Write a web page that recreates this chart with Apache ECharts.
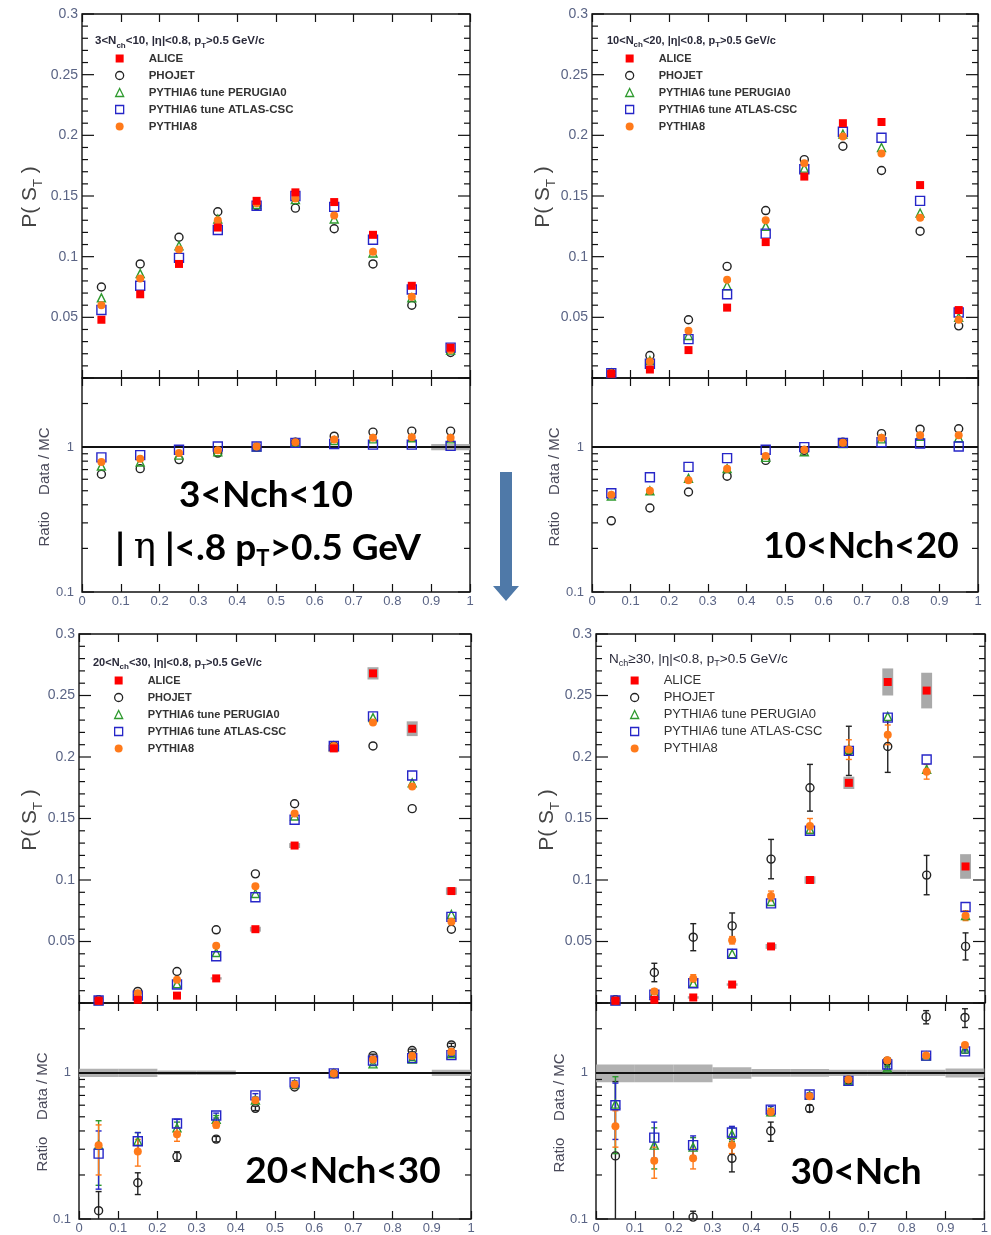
<!DOCTYPE html>
<html><head><meta charset="utf-8">
<script src="https://cdn.jsdelivr.net/npm/echarts@6/dist/echarts.min.js"></script>
<style>html,body{margin:0;padding:0;background:#fff}#c{width:991px;height:1235px}</style>
</head><body><div id="c"></div><script>
// ---------------- DATA ----------------
const stBins = [0.05, 0.15, 0.25, 0.35, 0.45, 0.55, 0.65, 0.75, 0.85, 0.95];
const xTickLabels = ['0','0.1','0.2','0.3','0.4','0.5','0.6','0.7','0.8','0.9','1'];
const logMajorTicks = [0.1, 1];
const logMinorTicks = [0.2,0.3,0.4,0.5,0.6,0.7,0.8,0.9,2,3];
const seriesNames = ['ALICE','PHOJET','PYTHIA6 tune PERUGIA0','PYTHIA6 tune ATLAS-CSC','PYTHIA8'];

// Panel 1 : 3<Nch<10
const alice_1   = [0.048,0.069,0.094,0.124,0.146,0.153,0.145,0.118,0.076,0.025];
const phojet_1  = [0.075,0.094,0.116,0.137,0.142,0.140,0.123,0.094,0.060,0.021];
const perugia_1 = [0.066,0.086,0.109,0.131,0.143,0.147,0.131,0.103,0.066,0.023];
const atlas_1   = [0.056,0.076,0.099,0.122,0.142,0.150,0.141,0.114,0.073,0.025];
const pythia8_1 = [0.060,0.082,0.106,0.130,0.144,0.148,0.134,0.104,0.067,0.023];
const rPhojet_1  = [0.65,0.71,0.82,0.91,1.00,1.08,1.19,1.27,1.29,1.29];
const rPerugia_1 = [0.74,0.79,0.88,0.93,1.00,1.07,1.11,1.14,1.16,1.14];
const rAtlas_1   = [0.85,0.88,0.96,1.01,1.01,1.07,1.05,1.04,1.04,1.02];
const rPythia8_1 = [0.79,0.83,0.91,0.95,1.01,1.08,1.13,1.16,1.17,1.16];
const band_1 = [0.012,0.012,0.012,0.012,0.012,0.012,0.012,0.012,0.012,0.05];

// Panel 2 : 10<Nch<20
const alice_2   = [0.0035,0.007,0.023,0.058,0.112,0.166,0.210,0.211,0.159,0.056];
const phojet_2  = [0.004,0.0185,0.048,0.092,0.138,0.180,0.191,0.171,0.121,0.043];
const perugia_2 = [0.004,0.0144,0.035,0.076,0.125,0.173,0.201,0.190,0.136,0.050];
const atlas_2   = [0.004,0.0117,0.032,0.069,0.119,0.172,0.203,0.198,0.146,0.054];
const pythia8_2 = [0.004,0.0136,0.039,0.081,0.130,0.177,0.199,0.185,0.132,0.048];
const rPhojet_2  = [0.31,0.38,0.49,0.63,0.81,0.95,1.08,1.24,1.33,1.34];
const rPerugia_2 = [0.46,0.50,0.61,0.71,0.85,0.93,1.06,1.14,1.19,1.16];
const rAtlas_2   = [0.48,0.62,0.73,0.84,0.96,1.00,1.07,1.08,1.06,1.01];
const rPythia8_2 = [0.47,0.50,0.59,0.71,0.87,0.96,1.07,1.16,1.21,1.21];
const band_2 = [0.012,0.012,0.012,0.012,0.012,0.012,0.012,0.012,0.012,0.012];

// Panel 3 : 20<Nch<30
const alice_3   = [0.0018,0.0026,0.006,0.020,0.060,0.128,0.207,0.268,0.223,0.091];
const aliceSys_3 = [0,0,0,0.001,0.002,0.002,0.003,0.005,0.006,0.003];
const phojet_3  = [0.0026,0.0094,0.0256,0.0595,0.105,0.162,0.209,0.209,0.158,0.060];
const perugia_3 = [0.002,0.0067,0.0156,0.041,0.089,0.152,0.209,0.232,0.179,0.072];
const atlas_3   = [0.002,0.006,0.015,0.038,0.086,0.149,0.209,0.233,0.185,0.070];
const pythia8_3 = [0.002,0.008,0.019,0.0465,0.095,0.154,0.209,0.228,0.176,0.066];
const rPhojet_3  = [0.114,0.177,0.268,0.352,0.571,0.80,0.985,1.31,1.42,1.55];
const rPerugia_3 = [0.32,0.34,0.42,0.48,0.65,0.84,0.99,1.15,1.24,1.35];
const rAtlas_3   = [0.28,0.34,0.45,0.51,0.70,0.86,0.99,1.21,1.26,1.32];
const rPythia8_3 = [0.32,0.29,0.38,0.44,0.65,0.83,0.99,1.23,1.30,1.39];
const erPhojet_3  = [0.04,0.03,0.02,0.015,0.02,0.02,0.02,0.03,0.03,0.04];
const erPerugia_3 = [0.15,0.05,0.04,0.03,0.03,0.02,0.02,0.03,0.03,0.03];
const erAtlas_3   = [0.12,0.05,0.03,0.02,0.02,0.02,0.02,0.03,0.03,0.03];
const erPythia8_3 = [0.12,0.06,0.04,0.02,0.02,0.02,0.02,0.03,0.03,0.03];
const band_3 = [0.065,0.065,0.035,0.035,0.012,0.012,0.012,0.012,0.012,0.05];

// Panel 4 : Nch>=30
const alice_4   = [0.0018,0.0026,0.0045,0.015,0.046,0.100,0.179,0.261,0.254,0.111];
const aliceSys_4 = [0.0005,0.0005,0.001,0.001,0.002,0.003,0.005,0.011,0.0145,0.01];
const phojet_4  = [0.0026,0.0248,0.0535,0.0627,0.117,0.175,0.205,0.2085,0.104,0.046];
const ePhojet_4 = [0.001,0.0075,0.011,0.0105,0.016,0.019,0.02,0.021,0.016,0.011];
const perugia_4 = [0.002,0.008,0.016,0.040,0.0825,0.141,0.206,0.233,0.190,0.071];
const atlas_4   = [0.002,0.0067,0.016,0.040,0.081,0.140,0.205,0.232,0.198,0.078];
const pythia8_4 = [0.002,0.0094,0.020,0.051,0.087,0.144,0.206,0.218,0.188,0.071];
const ePythia8_4 = [0.0005,0.002,0.003,0.003,0.004,0.006,0.008,0.008,0.006,0.004];
const rPhojet_4  = [0.27,null,0.103,0.26,0.40,0.57,0.89,1.20,2.41,2.39];
const rPerugia_4 = [0.61,0.32,0.31,0.38,0.54,0.70,0.88,1.08,1.30,1.45];
const rAtlas_4   = [0.60,0.36,0.32,0.39,0.56,0.71,0.88,1.14,1.31,1.40];
const rPythia8_4 = [0.43,0.25,0.26,0.32,0.54,0.69,0.90,1.22,1.31,1.55];
const erPhojet_4  = [0.6,0,0.01,0.05,0.06,0.03,0.05,0.06,0.25,0.35];
const erPerugia_4 = [0.33,0.1,0.05,0.04,0.03,0.02,0.03,0.04,0.03,0.04];
const erAtlas_4   = [0.25,0.1,0.05,0.04,0.03,0.02,0.03,0.04,0.03,0.04];
const erPythia8_4 = [0.12,0.06,0.04,0.04,0.03,0.02,0.03,0.04,0.03,0.04];
const band_4 = [0.14,0.14,0.14,0.09,0.06,0.06,0.05,0.05,0.05,0.07];

// ---------------- STYLE / LAYOUT ----------------
const COL = {alice:'#ff0000', phojet:'#222222', perugia:'#2e9a2e', atlas:'#2626c8', pythia8:'#ff7a1a'};
const labelColor = '#5a6485';
const panels = [
  {up:{left:82,top:14,width:388,height:364}, rt:{left:82,top:378,width:388,height:214},
   d:{alice:alice_1, phojet:phojet_1, perugia:perugia_1, atlas:atlas_1, pythia8:pythia8_1,
      rPhojet:rPhojet_1, rPerugia:rPerugia_1, rAtlas:rAtlas_1, rPythia8:rPythia8_1, band:band_1},
   legend:{left:115, top:52, fs:11.5, lh:13, gap:4, fw:'bold'},
   header:{left:95, top:33, fs:11.5, fw:'bold', text:'3<N{s|ch}<10, |η|<0.8, p{s|T}>0.5 GeV/c'},
   pLabel:[30,197], rLabel:[45,487]},
  {up:{left:592,top:14,width:386,height:364}, rt:{left:592,top:378,width:386,height:214},
   d:{alice:alice_2, phojet:phojet_2, perugia:perugia_2, atlas:atlas_2, pythia8:pythia8_2,
      rPhojet:rPhojet_2, rPerugia:rPerugia_2, rAtlas:rAtlas_2, rPythia8:rPythia8_2, band:band_2},
   legend:{left:625, top:52, fs:11, lh:13, gap:4, fw:'bold'},
   header:{left:607, top:33, fs:11, fw:'bold', text:'10<N{s|ch}<20, |η|<0.8, p{s|T}>0.5 GeV/c'},
   pLabel:[543,197], rLabel:[555,487]},
  {up:{left:79,top:634,width:392,height:369}, rt:{left:79,top:1003,width:392,height:219},
   d:{alice:alice_3, aliceSys:aliceSys_3, phojet:phojet_3, perugia:perugia_3, atlas:atlas_3, pythia8:pythia8_3,
      rPhojet:rPhojet_3, rPerugia:rPerugia_3, rAtlas:rAtlas_3, rPythia8:rPythia8_3,
      erPhojet:erPhojet_3, erPerugia:erPerugia_3, erAtlas:erAtlas_3, erPythia8:erPythia8_3, band:band_3},
   legend:{left:114, top:674, fs:11, lh:13, gap:4, fw:'bold'},
   header:{left:93, top:655, fs:11, fw:'bold', text:'20<N{s|ch}<30, |η|<0.8, p{s|T}>0.5 GeV/c'},
   pLabel:[30,820], rLabel:[43,1112]},
  {up:{left:596,top:634,width:389,height:369}, rt:{left:596,top:1003,width:389,height:219},
   d:{alice:alice_4, aliceSys:aliceSys_4, phojet:phojet_4, ePhojet:ePhojet_4, perugia:perugia_4, atlas:atlas_4,
      pythia8:pythia8_4, ePythia8:ePythia8_4,
      rPhojet:rPhojet_4, rPerugia:rPerugia_4, rAtlas:rAtlas_4, rPythia8:rPythia8_4,
      erPhojet:erPhojet_4, erPerugia:erPerugia_4, erAtlas:erAtlas_4, erPythia8:erPythia8_4, band:band_4},
   legend:{left:630, top:673, fs:13, lh:15, gap:2, fw:'normal'},
   header:{left:609, top:650, fs:13.5, fw:'normal', text:'N{s|ch}≥30, |η|<0.8, p{s|T}>0.5 GeV/c'},
   pLabel:[547,820], rLabel:[560,1113]}
];

// ---------------- BUILD ----------------
const grid = [], xAxis = [], yAxis = [], series = [], legend = [], title = [], graphic = [];
const tickLine = {color:'#111', width:1.2};

// tick positions for the linear P(S_T) axis (major every 0.05, minor every 0.01)
const linMajor = [], linMinor = [];
for (let i = 0; i <= 30; i++) { (i % 5 === 0 ? linMajor : linMinor).push(i / 100); }

function yTicks(ax, majors, minors) {
  const data = majors.map(v=>[0, v, 12]).concat(minors.map(v=>[0, v, 6]));
  return {type:'custom', xAxisIndex:ax.xi, yAxisIndex:ax.yi, data, clip:false, silent:true, z:6,
    encode:{x:0, y:1},
    renderItem:(params, api)=>{
      const v = api.value(1), len = api.value(2);
      const l = api.coord([0, v]), r = api.coord([1, v]);
      const st = {stroke:'#111', lineWidth:1.2};
      return {type:'group', children:[
        {type:'line', shape:{x1:l[0], y1:l[1], x2:l[0]+len, y2:l[1]}, style:st},
        {type:'line', shape:{x1:r[0], y1:r[1], x2:r[0]-len, y2:r[1]}, style:st}]};
    }};
}

function addGrid(g, isRatio) {
  const gi = grid.length;
  grid.push({left:g.left, top:g.top, width:g.width, height:g.height, show:true,
             borderColor:'#111', borderWidth:1.4, backgroundColor:'transparent', containLabel:false});
  const xi = xAxis.length;
  const xBase = {type:'value', gridIndex:gi, min:0, max:1, interval:0.1,
    axisLine:{show:false}, splitLine:{show:false},
    axisTick:{show:true, inside:true, length:8, lineStyle:tickLine}};
  xAxis.push(Object.assign({}, xBase, {position:'bottom',
    axisLabel:{show:isRatio, fontSize:13, color:labelColor, margin:3, fontFamily:'Liberation Sans',
      formatter:(v)=> xTickLabels[Math.round(v*10)]}}));
  xAxis.push(Object.assign({}, xBase, {position:'top', axisLabel:{show:false}}));
  const yi = yAxis.length;
  if (!isRatio) {
    yAxis.push({type:'value', gridIndex:gi, min:0, max:0.3, interval:0.05, position:'left',
      axisLine:{show:false}, splitLine:{show:false}, axisTick:{show:false},
      axisLabel:{show:true, fontSize:14, color:labelColor, margin:4, fontFamily:'Liberation Sans',
        formatter:(v)=> v < 1e-9 ? '' : String(+v.toFixed(2))}});
  } else {
    yAxis.push({type:'log', logBase:10, gridIndex:gi, min:0.1, max:3, position:'left',
      axisLine:{show:false}, splitLine:{show:false}, axisTick:{show:false},
      axisLabel:{show:true, fontSize:13, color:labelColor, margin:8, fontFamily:'Liberation Sans',
        formatter:(v)=> Math.abs(v-1)<1e-6 ? '1' : (Math.abs(v-0.1)<1e-6 ? '0.1' : '')}});
  }
  const ax = {xi, yi};
  series.push(isRatio ? yTicks(ax, logMajorTicks, logMinorTicks) : yTicks(ax, linMajor, linMinor));
  return ax;
}

function pts(vals) {
  return stBins.map((x,i)=> (vals[i]==null ? null : [x, vals[i]])).filter(Boolean);
}
function scatter(name, vals, ax, sym, size, color, filled, z) {
  return {type:'scatter', name, xAxisIndex:ax.xi, yAxisIndex:ax.yi, data:pts(vals),
    symbol:sym, symbolSize:size, z, silent:true, clip:true,
    itemStyle: filled ? {color, opacity:1} : {color:'rgba(255,255,255,0)', borderColor:color, borderWidth:1.4, opacity:1}};
}
function errBars(vals, errs, ax, color, isLog, z) {
  const data = stBins.map((x,i)=>[x, vals[i], errs[i]]).filter(d=> d[1]!=null && d[2]);
  return {type:'custom', xAxisIndex:ax.xi, yAxisIndex:ax.yi, data, clip:true, silent:true, z,
    encode:{x:0, y:1},
    renderItem:(params, api)=>{
      const x = api.value(0), y = api.value(1), e = api.value(2);
      let lo = y - e, hi = y + e, capLo = true, capHi = true;
      if (isLog) { if (lo < 0.1) { lo = 0.1; capLo = false; } if (hi > 3) { hi = 3; capHi = false; } }
      else if (lo < 0) { lo = 0; capLo = false; }
      const a = api.coord([x, lo]), b = api.coord([x, hi]);
      const st = {stroke:color, lineWidth:1.4};
      const ch = [{type:'line', shape:{x1:a[0], y1:a[1], x2:b[0], y2:b[1]}, style:st}];
      if (capLo) ch.push({type:'line', shape:{x1:a[0]-3, y1:a[1], x2:a[0]+3, y2:a[1]}, style:st});
      if (capHi) ch.push({type:'line', shape:{x1:b[0]-3, y1:b[1], x2:b[0]+3, y2:b[1]}, style:st});
      return {type:'group', children:ch};
    }};
}
function sysBoxes(vals, sys, ax) {
  const data = stBins.map((x,i)=>[x, vals[i], sys[i]]).filter(d=> d[2] > 0);
  return {type:'custom', xAxisIndex:ax.xi, yAxisIndex:ax.yi, data, clip:true, silent:true, z:1,
    encode:{x:0, y:1},
    renderItem:(params, api)=>{
      const x = api.value(0), y = api.value(1), s = api.value(2);
      const a = api.coord([x - 0.014, y + s]), b = api.coord([x + 0.014, y - s]);
      return {type:'rect', shape:{x:a[0], y:a[1], width:b[0]-a[0], height:b[1]-a[1]},
        style:{fill:'#9a9a9a', opacity:0.85}};
    }};
}
function ratioBand(band, ax) {
  const data = stBins.map((x,i)=>[x, 1, band[i]]);
  return {type:'custom', xAxisIndex:ax.xi, yAxisIndex:ax.yi, data, clip:true, silent:true, z:1,
    encode:{x:0, y:1},
    renderItem:(params, api)=>{
      const x = api.value(0), s = api.value(2);
      const a = api.coord([x - 0.05, 1 + s]), b = api.coord([x + 0.05, 1 - s]);
      return {type:'rect', shape:{x:a[0], y:a[1], width:b[0]-a[0], height:Math.max(b[1]-a[1], 1)},
        style:{fill:'#a8a8a8', opacity:0.9}};
    }};
}

panels.forEach((p) => {
  const d = p.d;
  const up = addGrid(p.up, false);
  const rt = addGrid(p.rt, true);
  // upper plot
  if (d.aliceSys) series.push(sysBoxes(d.alice, d.aliceSys, up));
  if (d.ePhojet) series.push(errBars(d.phojet, d.ePhojet, up, COL.phojet, false, 2));
  if (d.ePythia8) series.push(errBars(d.pythia8, d.ePythia8, up, COL.pythia8, false, 2));
  series.push(scatter(seriesNames[1], d.phojet, up, 'circle', 8, COL.phojet, false, 3));
  series.push(scatter(seriesNames[2], d.perugia, up, 'triangle', 8, COL.perugia, false, 3));
  series.push(scatter(seriesNames[3], d.atlas, up, 'rect', 9, COL.atlas, false, 3));
  series.push(scatter(seriesNames[4], d.pythia8, up, 'circle', 8, COL.pythia8, true, 4));
  series.push(scatter(seriesNames[0], d.alice, up, 'rect', 8, COL.alice, true, 5));
  // ratio plot
  series.push(ratioBand(d.band, rt));
  if (d.erPhojet) {
    series.push(errBars(d.rPhojet, d.erPhojet, rt, COL.phojet, true, 2));
    series.push(errBars(d.rPerugia, d.erPerugia, rt, COL.perugia, true, 2));
    series.push(errBars(d.rAtlas, d.erAtlas, rt, COL.atlas, true, 2));
    series.push(errBars(d.rPythia8, d.erPythia8, rt, COL.pythia8, true, 2));
  }
  const rPh = scatter(seriesNames[1], d.rPhojet, rt, 'circle', 8, COL.phojet, false, 3);
  rPh.markLine = {silent:true, symbol:'none', label:{show:false}, z:2,
    lineStyle:{color:'#111', width:2, type:'solid'}, data:[{yAxis:1}], animation:false};
  series.push(rPh);
  series.push(scatter(seriesNames[2], d.rPerugia, rt, 'triangle', 8, COL.perugia, false, 3));
  series.push(scatter(seriesNames[3], d.rAtlas, rt, 'rect', 9, COL.atlas, false, 3));
  series.push(scatter(seriesNames[4], d.rPythia8, rt, 'circle', 8, COL.pythia8, true, 4));

  // legend
  const L = p.legend;
  legend.push({left:L.left, top:L.top, orient:'vertical', padding:0, itemGap:L.gap,
    itemWidth:8, itemHeight:8, selectedMode:false,
    textStyle:{fontSize:L.fs, fontWeight:L.fw, lineHeight:L.lh, color:'#333', fontFamily:'Liberation Sans', padding:[0,0,0,20]},
    data:[
      {name:seriesNames[0], icon:'rect', itemStyle:{color:COL.alice, borderWidth:0}},
      {name:seriesNames[1], icon:'circle', itemStyle:{color:'rgba(255,255,255,0)', borderColor:COL.phojet, borderWidth:1.3}},
      {name:seriesNames[2], icon:'triangle', itemStyle:{color:'rgba(255,255,255,0)', borderColor:COL.perugia, borderWidth:1.3}},
      {name:seriesNames[3], icon:'rect', itemStyle:{color:'rgba(255,255,255,0)', borderColor:COL.atlas, borderWidth:1.3}},
      {name:seriesNames[4], icon:'circle', itemStyle:{color:COL.pythia8, borderWidth:0}}
    ]});
  // header
  const H = p.header;
  title.push({left:H.left, top:H.top, padding:0, text:H.text,
    textStyle:{fontSize:H.fs, fontWeight:H.fw, color:'#2a2a3a', fontFamily:'Liberation Sans',
      lineHeight:H.fs+3,
      rich:{s:{fontSize:Math.round(H.fs*0.7), fontWeight:H.fw, color:'#2a2a3a', fontFamily:'Liberation Sans', verticalAlign:'bottom', lineHeight:H.fs+5}}}});
  // axis titles
  graphic.push({type:'text', x:p.pLabel[0], y:p.pLabel[1], rotation:Math.PI/2,
    style:{text:'P( S{s|T} )', fontSize:21, fontFamily:'Liberation Sans', fill:'#444',
      align:'center', verticalAlign:'middle',
      rich:{s:{fontSize:13, fill:'#444', fontFamily:'Liberation Sans', verticalAlign:'bottom', lineHeight:30}}}});
  graphic.push({type:'text', x:p.rLabel[0], y:p.rLabel[1], rotation:Math.PI/2,
    style:{text:'Ratio    Data / MC', fontSize:15, fontFamily:'Liberation Sans', fill:'#4a4a5a',
      align:'center', verticalAlign:'middle'}});
});

// big annotations
const bigFont = 'Lato, "Open Sans", sans-serif';
function bigText(txt, x, y) {
  graphic.push({type:'text', x, y, z:50,
    style:{text:txt, fontSize:37, fontWeight:'bold', fontFamily:bigFont, fill:'#000',
      align:'center', verticalAlign:'middle',
      rich:{s:{fontSize:22, fontWeight:'bold', fontFamily:bigFont, fill:'#000', verticalAlign:'bottom', lineHeight:44},
            e:{fontSize:37, fontWeight:'normal', fontFamily:'"DejaVu Serif", serif', fill:'#000'}}}});
}
bigText('3<Nch<10', 266, 495);
bigText('| {e|η} |<.8 p{s|T}>0.5 GeV', 268, 548);
bigText('10<Nch<20', 861, 546);
bigText('20<Nch<30', 343, 1171);
bigText('30<Nch', 856, 1172);
// arrow
graphic.push({type:'polygon', z:50,
  shape:{points:[[500,472],[512,472],[512,586],[519,586],[506,601],[493,586],[500,586]]},
  style:{fill:'#4f79a8'}});

const option = {animation:false, backgroundColor:'#fff', grid, xAxis, yAxis, series, legend, title, graphic};
const chart = echarts.init(document.getElementById('c'), null, {renderer:'canvas'});
chart.setOption(option);
</script></body></html>
